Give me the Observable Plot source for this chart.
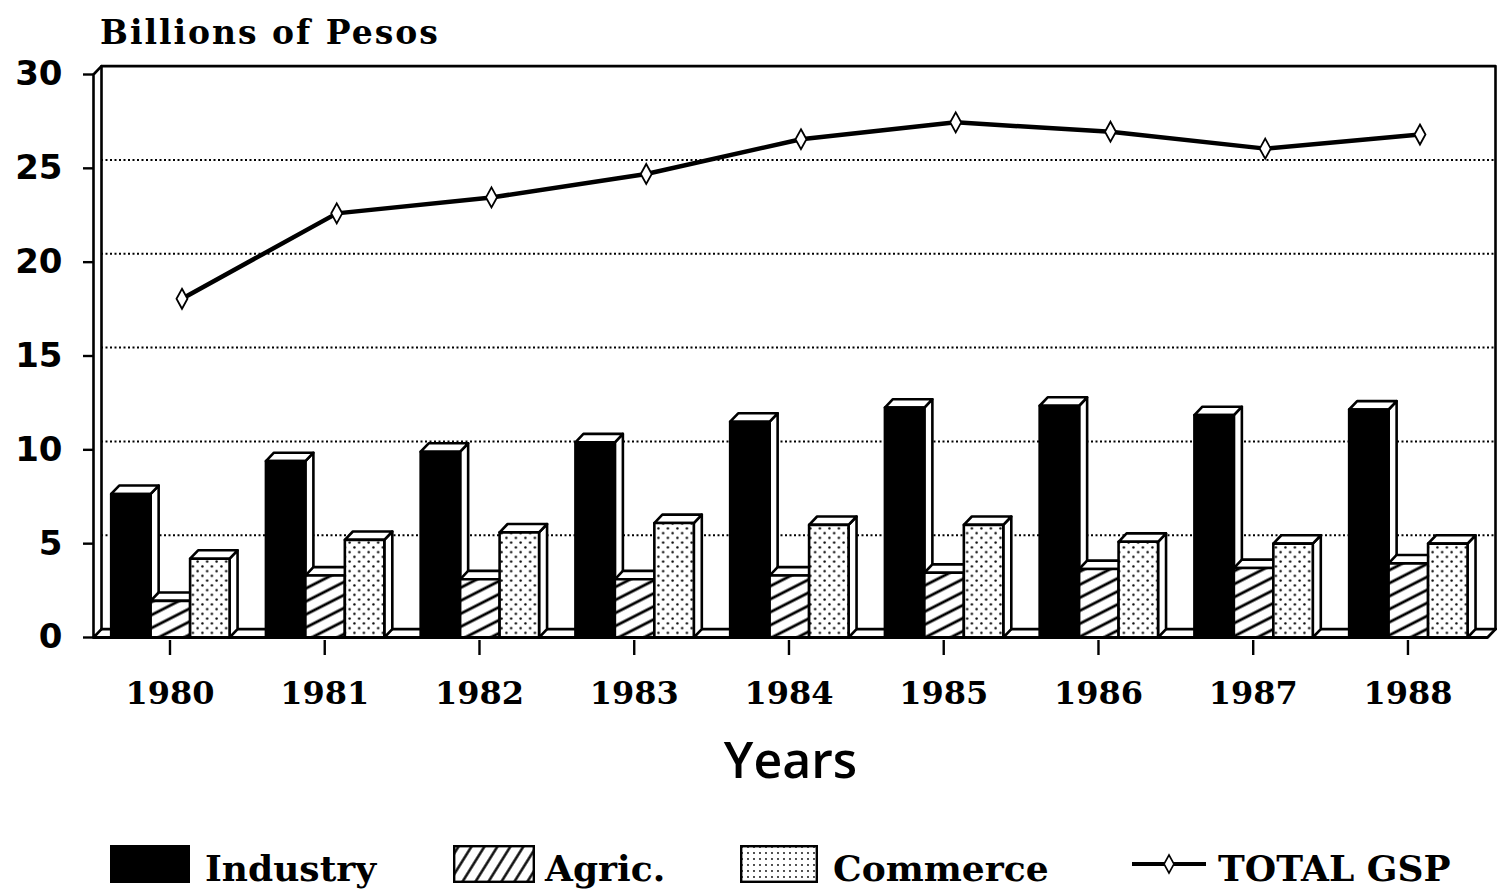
<!DOCTYPE html>
<html><head><meta charset="utf-8">
<script src="https://cdn.jsdelivr.net/npm/d3@7"></script>
<script src="https://cdn.jsdelivr.net/npm/@observablehq/plot@0.6"></script>
<style>
body{margin:0;background:#fff;width:1501px;height:890px;overflow:hidden;position:relative;}
#title{position:absolute;left:100px;top:16px;font:bold 33px "DejaVu Serif",serif;line-height:1;letter-spacing:2px;color:#000;}
#chart{position:absolute;left:0;top:60px;}
.sw{position:absolute;top:845px;}
.lt{position:absolute;top:850px;font:bold 36px "DejaVu Serif",serif;line-height:1;color:#000;white-space:nowrap;}
</style>
</head><body>
<div id="title">Billions of Pesos</div>
<div id="chart"></div>
<div id="legend"></div>
<script>
// ---- data ----
const years = ["1980","1981","1982","1983","1984","1985","1986","1987","1988"];
const industry = [7.65, 9.4, 9.9, 10.4, 11.5, 12.25, 12.35, 11.85, 12.15];
const agric    = [1.95, 3.3, 3.1, 3.1, 3.3, 3.45, 3.65, 3.7, 3.95];
const commerce = [4.2, 5.2, 5.6, 6.1, 6.0, 6.0, 5.1, 5.0, 5.0];
const totalGSP = [18.05, 22.6, 23.45, 24.7, 26.55, 27.45, 26.95, 26.05, 26.8];
const seriesNames = ["Industry", "Agric.", "Commerce"];
const lineName = "TOTAL GSP";
const yTicks = [0, 5, 10, 15, 20, 25, 30];
const gridTicks = [5, 10, 15, 20, 25];
const xLabel = "Years";

// ---- styling / geometry constants ----
const fills = ["black", "url(#hatch)", "url(#dots)"];
const XMIN = -0.4943, XMAX = 8.514;   // x domain (group index units)
const DXU = 0.0517, DYU = 0.448;      // 3-D depth in data units
const BAR_W = 0.255, GROUP_START = -0.38;
const YMAX = 30;

const seriesValues = [industry, agric, commerce];

const faces = [];
years.forEach((yr, i) => {
  seriesValues.forEach((vals, k) => {
    const v = vals[i];
    const x1 = i + GROUP_START + k * BAR_W, x2 = x1 + BAR_W;
    const id = i + "-" + k;
    const push = (f, fill, pts) => pts.forEach(([x, y]) => faces.push({id: id + f, fill, x, y}));
    push("s", "white", [[x2, 0], [x2 + DXU, DYU], [x2 + DXU, v + DYU], [x2, v]]);
    push("t", "white", [[x1, v], [x2, v], [x2 + DXU, v + DYU], [x1 + DXU, v + DYU]]);
    push("f", fills[k], [[x1, 0], [x2, 0], [x2, v], [x1, v]]);
  });
});

const totalData = totalGSP.map((v, i) => ({i, v}));

const backFrame = [];
const addPath = (arr, id, pts) => pts.forEach(([x, y]) => arr.push({id, x, y}));
addPath(backFrame, "wall", [[XMIN + DXU, DYU], [XMIN + DXU, YMAX + DYU], [XMAX + DXU, YMAX + DYU], [XMAX + DXU, DYU]]);
addPath(backFrame, "floorback", [[XMIN + DXU, DYU], [XMAX + DXU, DYU]]);
addPath(backFrame, "leftfront", [[XMIN + DXU, YMAX + DYU], [XMIN, YMAX], [XMIN, 0], [XMIN + DXU, DYU]]);
const frontFrame = [];
addPath(frontFrame, "floorfront", [[XMIN, 0], [XMAX, 0], [XMAX + DXU, DYU]]);

const tallDiamond = {
  draw(ctx) {
    ctx.moveTo(0, -10); ctx.lineTo(5.5, 0); ctx.lineTo(0, 10); ctx.lineTo(-5.5, 0); ctx.closePath();
  }
};

const plot = Plot.plot({
  width: 1501,
  height: 740,
  marginLeft: 93,
  marginRight: 14,
  marginTop: 14,
  marginBottom: 163,
  style: {background: "white", fontFamily: "DejaVu Sans", overflow: "visible", color: "black"},
  x: {domain: [XMIN, XMAX], axis: null},
  y: {domain: [0, YMAX], axis: null},
  color: {type: "identity"},
  marks: [
    Plot.ruleY(gridTicks, {y: d => d, x1: XMIN + DXU, x2: XMAX + DXU, dy: -8.4, stroke: "black", strokeWidth: 2, strokeDasharray: "2,2.5"}),
    Plot.line(backFrame, {x: "x", y: "y", z: "id", stroke: "black", strokeWidth: 2.6, curve: "linear"}),
    Plot.line(faces, {x: "x", y: "y", z: "id", fill: d => d.fill, stroke: "black", strokeWidth: 2.6, strokeLinejoin: "round", curve: "linear-closed"}),
    Plot.line(frontFrame, {x: "x", y: "y", z: "id", stroke: "black", strokeWidth: 2.8, curve: "linear"}),
    Plot.axisY({ticks: yTicks, tickSize: 10, tickPadding: 21, fontSize: 34, fontWeight: "bold", fontFamily: "DejaVu Sans", strokeWidth: 2.4, label: null}),
    Plot.axisX({ticks: d3.range(years.length), tickFormat: i => years[i], tickSize: 15, tickPadding: 26, dy: 3, fontSize: 32, fontWeight: "bold", fontFamily: "DejaVu Serif", strokeWidth: 2.4, label: null}),
    Plot.line(totalData, {x: "i", y: "v", dx: 12, stroke: "black", strokeWidth: 4.5, curve: "linear"}),
    Plot.dot(totalData, {x: "i", y: "v", dx: 12, symbol: tallDiamond, fill: "white", stroke: "black", strokeWidth: 1.8, r: 5}),
    Plot.text([xLabel], {frameAnchor: "bottom", dy: 140, text: d => d, fontSize: 50, fontFamily: "Open Sans", fontWeight: 600})
  ]
});

const defs = `
<defs>
  <pattern id="hatch" patternUnits="userSpaceOnUse" width="12" height="11.6" patternTransform="rotate(-27)">
    <rect width="12" height="11.6" fill="white"/>
    <line x1="0" y1="5.8" x2="12" y2="5.8" stroke="black" stroke-width="2.8"/>
  </pattern>
  <pattern id="dots" patternUnits="userSpaceOnUse" width="9.5" height="9.5">
    <rect width="9.5" height="9.5" fill="white"/>
    <circle cx="2.4" cy="2.4" r="1.2" fill="black"/>
    <circle cx="7.15" cy="7.15" r="1.2" fill="black"/>
  </pattern>
  <pattern id="hatchLeg" patternUnits="userSpaceOnUse" width="11" height="10" patternTransform="rotate(32)">
    <rect width="11" height="10" fill="white"/>
    <line x1="5.5" y1="0" x2="5.5" y2="10" stroke="black" stroke-width="2.4"/>
  </pattern>
  <pattern id="dotsLeg" patternUnits="userSpaceOnUse" width="6" height="6">
    <rect width="6" height="6" fill="white"/>
    <circle cx="2" cy="2" r="0.9" fill="black"/>
  </pattern>
</defs>`;
plot.insertAdjacentHTML("afterbegin", defs);
document.getElementById("chart").appendChild(plot);

const legend = document.getElementById("legend");
const legItems = [
  {name: seriesNames[0], sx: 110, sw: 80, tx: 205, svg: w => `<rect x="0" y="0" width="${w}" height="38" fill="black"/>`},
  {name: seriesNames[1], sx: 453, sw: 82, tx: 545, svg: w => `<rect x="1.2" y="1.2" width="${w-2.4}" height="35.6" fill="url(#hatchLeg)" stroke="black" stroke-width="2.4"/>`},
  {name: seriesNames[2], sx: 740, sw: 78, tx: 833, svg: w => `<rect x="1.2" y="1.2" width="${w-2.4}" height="35.6" fill="url(#dotsLeg)" stroke="black" stroke-width="2.4"/>`},
  {name: lineName, sx: 1132, sw: 74, tx: 1218, svg: w => `<line x1="0" y1="19" x2="${w}" y2="19" stroke="black" stroke-width="4"/><path d="M${w/2},10 L${w/2+5},19 L${w/2},28 L${w/2-5},19 Z" fill="white" stroke="black" stroke-width="1.6"/>`}
];
legItems.forEach(it => {
  legend.insertAdjacentHTML("beforeend",
    `<svg class="sw" style="left:${it.sx}px" width="${it.sw}" height="38">${it.svg(it.sw)}</svg>` +
    `<div class="lt" style="left:${it.tx}px">${it.name}</div>`);
});
</script>
</body></html>
